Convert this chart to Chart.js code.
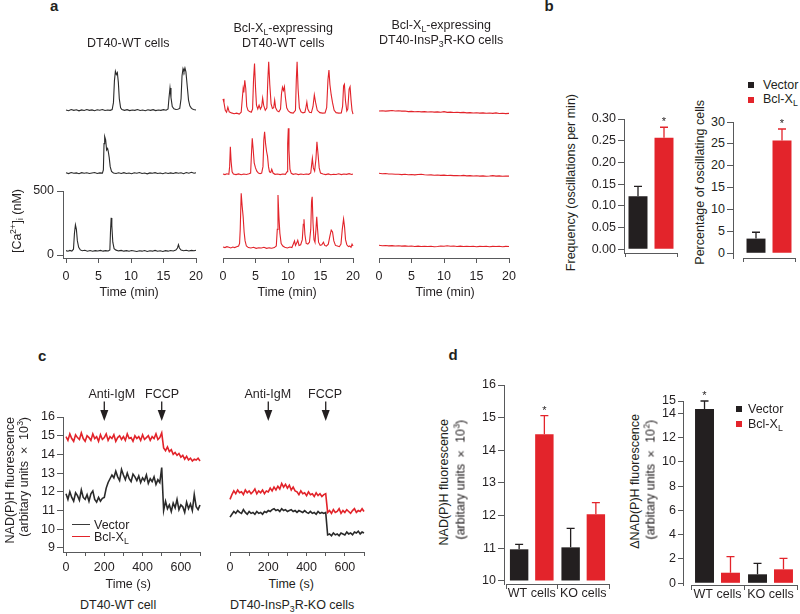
<!DOCTYPE html>
<html><head><meta charset="utf-8">
<script src="https://cdn.jsdelivr.net/npm/chart.js@4.4.1/dist/chart.umd.min.js"></script>
<style>
body{margin:0;background:#fff}
#root{position:relative;width:800px;height:614px;overflow:hidden;background:#fff;font-family:"Liberation Sans",Arial,Helvetica,sans-serif;color:#231f20}
.t{position:absolute;white-space:nowrap;font-size:12.5px;line-height:1;z-index:2}
.t sub,.t sup{font-size:0.7em;line-height:0;position:relative;vertical-align:baseline}
.t sub{top:0.35em}.t sup{top:-0.5em}
.v{writing-mode:vertical-rl;transform:rotate(180deg)}
.v sub,.v sup{top:0}
.v sup{left:0.5em}.v sub{left:-0.35em}
.bold{font-weight:bold;font-size:15px}
.sq{position:absolute;width:6px;height:6px;z-index:2}
.ln{position:absolute;width:18px;height:0;border-top:1.5px solid;z-index:2}
canvas{position:absolute;z-index:1}
</style></head><body><div id="root"></div><script>
// ================= DATA =================
// Panel a: [Ca2+]i traces, [time (min), nM]
const timeTicksMin = [0,5,10,15,20];
const caTicks = [0,500];
const wt1 = [[0,62],[0.4,57],[0.8,66],[1.2,60],[1.6,64],[2,56],[2.4,63],[2.8,59],[3.2,66],[3.6,60],[4,63],[4.4,57],[4.8,64],[5.2,61],[5.6,66],[6,59],[6.4,63],[6.8,60],[7.1,66],[7.3,120],[7.45,290],[7.6,365],[7.75,340],[7.9,355],[8.05,280],[8.2,150],[8.4,80],[8.6,66],[9,60],[9.4,65],[9.8,58],[10.2,63],[10.6,60],[11,66],[11.4,59],[11.8,62],[12.2,57],[12.6,64],[13,60],[13.4,65],[13.8,58],[14.2,62],[14.6,60],[15,65],[15.4,61],[15.7,70],[15.85,160],[16,235],[16.15,160],[16.35,90],[16.6,72],[16.9,66],[17.2,68],[17.5,75],[17.7,150],[17.85,330],[18,385],[18.15,360],[18.3,390],[18.45,360],[18.65,250],[18.85,140],[19.05,95],[19.3,75],[19.6,66],[20,63]];
const wt2 = [[0,72],[0.4,66],[0.8,74],[1.2,68],[1.6,71],[2,65],[2.4,73],[2.8,68],[3.2,72],[3.6,66],[4,70],[4.4,74],[4.8,67],[5.2,71],[5.6,69],[5.75,95],[5.85,300],[5.95,355],[6.1,330],[6.25,250],[6.4,262],[6.5,240],[6.65,190],[6.8,120],[7,82],[7.3,70],[7.7,66],[8.1,72],[8.5,67],[8.9,73],[9.3,66],[9.7,70],[10.1,65],[10.5,72],[10.9,68],[11.3,74],[11.7,67],[12.1,70],[12.5,64],[12.9,71],[13.3,68],[13.7,73],[14.1,66],[14.5,70],[14.9,65],[15.3,72],[15.7,67],[16.1,71],[16.5,66],[16.9,73],[17.3,68],[17.7,72],[18.1,65],[18.5,74],[18.9,69],[19.3,76],[19.7,68],[20,72]];
const wt3 = [[0,34],[0.3,30],[0.6,36],[0.9,31],[1.15,45],[1.3,170],[1.45,235],[1.6,200],[1.75,110],[1.95,60],[2.2,40],[2.5,33],[2.9,37],[3.3,30],[3.7,35],[4.1,29],[4.5,34],[4.9,31],[5.3,36],[5.7,30],[6.1,34],[6.5,31],[6.75,40],[6.85,190],[6.95,290],[7.05,230],[7.2,100],[7.4,50],[7.7,38],[8.1,32],[8.5,36],[8.9,30],[9.3,34],[9.7,29],[10.1,35],[10.5,31],[10.9,27],[11.3,33],[11.7,30],[12.1,35],[12.5,28],[12.9,33],[13.3,30],[13.7,36],[14.1,29],[14.5,33],[14.9,28],[15.3,34],[15.7,30],[16.1,35],[16.5,31],[16.9,38],[17.15,55],[17.3,80],[17.45,55],[17.7,38],[18.1,33],[18.5,37],[18.9,31],[19.3,36],[19.7,33],[20,37]];
const bcl1 = [[0,150],[0.15,120],[0.35,60],[0.55,45],[0.75,85],[0.95,48],[1.3,40],[1.7,33],[2.1,38],[2.5,31],[2.8,45],[2.95,140],[3.1,230],[3.2,200],[3.35,295],[3.5,230],[3.65,90],[3.85,60],[4.1,50],[4.35,45],[4.55,70],[4.7,300],[4.85,425],[5.0,240],[5.15,100],[5.35,70],[5.55,100],[5.75,70],[5.95,90],[6.1,155],[6.25,100],[6.5,60],[6.75,80],[6.9,300],[7.03,440],[7.2,260],[7.4,110],[7.6,75],[7.8,80],[7.95,140],[8.1,80],[8.35,55],[8.6,48],[8.85,70],[9.0,190],[9.15,240],[9.3,215],[9.45,245],[9.6,160],[9.8,80],[10.05,55],[10.4,42],[10.8,38],[11.15,60],[11.28,300],[11.4,440],[11.55,230],[11.75,80],[12.0,48],[12.3,40],[12.6,45],[12.75,80],[12.9,125],[13.05,70],[13.3,45],[13.6,42],[13.85,90],[14.05,180],[14.25,120],[14.5,60],[14.9,42],[15.3,38],[15.7,40],[15.95,80],[16.15,300],[16.3,375],[16.45,260],[16.65,180],[16.85,120],[17.1,60],[17.4,42],[17.8,38],[18.2,40],[18.4,90],[18.55,250],[18.68,263],[18.85,130],[19.05,55],[19.2,70],[19.4,225],[19.55,245],[19.7,140],[19.85,60],[20,30]];
const bcl2 = [[0,62],[0.3,58],[0.6,64],[0.9,60],[1.02,120],[1.13,276],[1.25,160],[1.4,80],[1.6,62],[2,58],[2.4,63],[2.8,57],[3.2,62],[3.6,59],[4,64],[4.25,70],[4.38,220],[4.5,341],[4.65,250],[4.8,150],[5.0,110],[5.2,85],[5.45,70],[5.7,65],[5.95,70],[6.15,120],[6.28,330],[6.4,393],[6.55,300],[6.7,240],[6.85,200],[7.0,120],[7.15,80],[7.35,75],[7.5,100],[7.7,70],[8.0,60],[8.4,63],[8.8,58],[9.2,62],[9.6,60],[9.85,80],[9.95,300],[10.05,420],[10.15,250],[10.3,100],[10.5,68],[10.8,60],[11.2,64],[11.6,58],[12,62],[12.4,59],[12.8,63],[13.2,60],[13.5,70],[13.65,140],[13.75,185],[13.9,110],[14.1,85],[14.3,180],[14.45,315],[14.6,230],[14.8,110],[15.0,70],[15.4,62],[15.8,58],[16.2,63],[16.6,57],[17,61],[17.4,59],[17.8,64],[18.2,58],[18.6,62],[19,60],[19.4,65],[19.8,59],[20,62]];
const bcl3 = [[0,62],[0.3,58],[0.6,65],[0.9,60],[1.2,55],[1.5,62],[1.8,58],[2.1,64],[2.4,70],[2.55,90],[2.65,200],[2.8,482],[2.95,380],[3.1,300],[3.25,180],[3.4,110],[3.6,70],[3.9,58],[4.3,55],[4.7,60],[5.1,52],[5.5,57],[5.9,55],[6.3,60],[6.7,52],[7.1,56],[7.5,53],[7.9,58],[8.2,70],[8.35,200],[8.46,469],[8.6,300],[8.75,170],[8.95,90],[9.2,70],[9.5,60],[9.9,55],[10.3,62],[10.6,58],[10.85,90],[11.0,110],[11.15,75],[11.35,95],[11.5,115],[11.7,75],[11.95,80],[12.2,120],[12.35,240],[12.46,279],[12.6,160],[12.8,90],[13.05,85],[13.3,100],[13.5,200],[13.62,420],[13.72,455],[13.85,250],[14.0,120],[14.15,100],[14.3,200],[14.42,299],[14.55,200],[14.7,100],[14.95,75],[15.2,80],[15.45,100],[15.65,75],[15.9,70],[16.2,85],[16.45,150],[16.65,195],[16.85,180],[17.05,110],[17.3,75],[17.6,70],[17.9,65],[18.15,85],[18.35,200],[18.55,281],[18.7,220],[18.85,120],[19.05,80],[19.3,65],[19.5,70],[19.7,60],[19.85,85],[20,70]];
const ko1 = [[0,55],[0.5,57],[1,54],[1.5,56],[2,58],[2.5,55],[3,57],[3.5,54],[4,55],[4.5,50],[5,52],[5.5,49],[6,51],[6.5,48],[7,50],[7.5,47],[8,49],[8.5,46],[9,48],[9.5,45],[10,50],[10.5,44],[11,46],[11.5,43],[12,45],[12.5,42],[13,44],[13.5,40],[14,42],[14.5,39],[15,41],[15.5,38],[16,40],[16.5,37],[17,39],[17.5,36],[18,40],[18.5,35],[19,37],[19.5,34],[20,36]];
const ko2 = [[0,68],[0.5,64],[1,66],[1.5,63],[2,62],[2.5,60],[3,61],[3.5,58],[4,60],[4.5,57],[5,59],[5.5,56],[6,58],[6.5,60],[7,57],[7.5,55],[8,56],[8.5,53],[9,55],[9.5,52],[10,54],[10.5,51],[11,52],[11.5,50],[12,51],[12.5,49],[13,52],[13.5,48],[14,50],[14.5,47],[15,49],[15.5,46],[16,48],[16.5,45],[17,47],[17.5,50],[18,46],[18.5,48],[19,45],[19.5,47],[20,46]];
const ko3 = [[0,76],[0.5,72],[1,74],[1.5,71],[2,73],[2.5,70],[3,72],[3.5,69],[4,71],[4.5,68],[5,70],[5.5,67],[6,69],[6.5,66],[7,68],[7.5,66],[8,68],[8.5,65],[9,67],[9.5,70],[10,68],[10.5,72],[11,68],[11.5,70],[12,67],[12.5,69],[13,66],[13.5,68],[14,66],[14.5,68],[15,65],[15.5,67],[16,66],[16.5,68],[17,65],[17.5,67],[18,66],[18.5,68],[19,65],[19.5,67],[20,66]];

// Panel b
const groupsB = ['Vector','Bcl-XL'];
const freqValues = [0.122,0.257];
const freqErr = [0.023,0.024];
const freqTicks = [0,0.05,0.10,0.15,0.20,0.25,0.30];
const pctValues = [3.35,25.8];
const pctErr = [1.45,2.6];
const pctTicks = [0,5,10,15,20,25,30];
const starB = [false,true];

// Panel c: NAD(P)H traces (time in s)
const cTime = [0,10,20,30,40,50,60,70,80,90,100,110,120,130,140,150,160,170,180,190,200,210,220,230,240,250,260,270,280,290,300,310,320,330,340,350,360,370,380,390,400,410,420,430,440,450,460,470,480,490,500,510,520,530,540,550,560,570,580,590,600,610,620,630,640,650,660,670,680,690,700];
const wtVector = [11.9,11.6,12.0,11.7,11.5,11.95,11.8,11.55,12.1,11.7,11.6,11.85,11.5,11.9,12.05,11.6,11.45,11.7,11.5,11.65,
  11.7,12.2,12.5,12.7,12.9,
  12.75,13.1,12.8,12.6,13.2,12.9,12.65,13.0,12.7,12.55,12.95,12.8,12.6,12.85,12.5,12.75,12.6,12.9,12.45,12.7,12.55,12.8,12.4,12.65,12.5,
  13.3,
  11.0,11.5,11.1,11.3,10.95,11.4,11.15,11.6,11.05,11.3,11.2,10.9,11.45,11.1,11.35,11.0,11.85,11.2,11.05,11.3];
const wtBcl = [14.95,14.75,15.1,14.85,14.7,15.05,14.9,14.8,15.15,14.85,
  14.7,15.0,14.9,14.75,15.1,14.85,14.95,14.7,15.05,14.8,
  14.9,15.1,14.75,14.95,14.85,15.05,14.7,14.9,15.0,14.8,
  14.95,14.75,15.1,14.85,14.9,14.7,15.0,14.85,14.95,14.75,
  15.05,14.8,14.9,15.0,14.75,14.95,14.85,15.1,14.8,14.9,
  15.15,
  14.35,14.2,14.4,14.15,14.25,14.0,14.1,13.95,14.05,13.85,13.95,13.75,13.9,13.7,13.8,13.65,13.75,13.7,13.8,13.65];
const koVector = [10.65,
  10.8,10.95,10.85,11.0,10.9,10.85,11.05,10.9,10.8,10.95,10.85,10.9,10.8,10.95,10.85,10.9,10.8,10.95,10.9,
  11.0,10.95,11.05,11.1,11.0,11.05,10.95,11.1,11.0,11.05,10.95,11.0,11.05,10.95,11.0,10.9,11.0,10.95,10.9,11.0,
  10.9,10.85,10.95,10.85,10.9,10.8,10.95,10.85,10.9,10.85,
  10.9,
  9.7,9.75,9.65,9.8,9.7,9.75,9.65,9.8,9.75,9.7,9.85,9.75,9.8,9.7,9.85,9.8,9.9,9.75,9.85,9.8];
const koBcl = [11.6,
  11.85,12.05,11.9,12.1,11.95,12.0,11.85,12.1,11.95,12.05,11.9,12.0,12.15,11.9,12.05,11.95,12.1,11.9,12.05,
  12.0,12.2,12.05,12.25,12.1,12.3,12.15,12.45,12.25,12.4,12.2,12.35,12.1,12.25,12.05,
  12.0,11.85,12.05,11.9,11.95,11.8,12.0,11.85,11.9,11.75,11.95,11.8,11.9,11.75,11.85,
  11.9,
  10.9,11.0,10.85,11.05,10.9,10.95,11.1,10.85,11.0,10.9,11.05,10.95,10.85,11.0,11.1,10.9,11.0,10.95,11.1,10.95];
const cTicksY = [9,10,11,12,13,14,15,16];
const cTicksX = [0,100,200,300,400,500,600,700];
const arrowTimes = [200,500];

// Panel d
const groupsD = ['WT cells','KO cells'];
const nadVector = [10.97,11.03];
const nadVectorErr = [0.15,0.58];
const nadBcl = [14.49,12.04];
const nadBclErr = [0.57,0.36];
const nadTicks = [10,11,12,13,14,15,16];
const dNadVector = [14.35,0.74];
const dNadVectorErr = [0.65,0.9];
const dNadBcl = [0.87,1.15];
const dNadBclErr = [1.32,0.9];
const dNadTicks = [0,2,4,6,8,10,12,14,15];

// ================= STYLE =================
const TXT = '#231f20', AX = '#58595b';
const BLACK = '#231f20', RED = '#e3242b';
const LINE_RED = '#e2232a', LINE_BLACK = '#2a2a2a';
const FONT = {family:'"Liberation Sans", Arial, sans-serif', size:12.5};
const root = document.getElementById('root');

function merge(a,b){const o=Object.assign({},a);for(const k in b){const v=b[k];o[k]=(v&&typeof v==='object'&&!Array.isArray(v)&&a[k]&&typeof a[k]==='object')?merge(a[k],v):v;}return o;}
const BASE_AXIS = {
  border:{display:true,color:AX,width:1},
  grid:{display:true,drawOnChartArea:false,drawTicks:true,tickLength:5,tickColor:AX,tickWidth:1,color:AX},
  ticks:{color:TXT,font:FONT,padding:3,maxRotation:0,autoSkip:false}
};
function axis(extra){return merge(BASE_AXIS,extra);}
function fixed(vals){return s=>{s.ticks=vals.map(v=>({value:v}));};}
const endTicks = c => (c.type==='scale'||c.index===0) ? AX : 'rgba(0,0,0,0)';

function place(area, sp, cfg, z){
  const W=Math.round(area.w+sp.l+sp.r), H=Math.round(area.h+sp.t+sp.b);
  const cv=document.createElement('canvas');
  cv.width=W; cv.height=H;
  cv.style.left=(area.x-sp.l)+'px'; cv.style.top=(area.y-sp.t)+'px';
  cv.style.width=W+'px'; cv.style.height=H+'px';
  if(z) cv.style.zIndex=z;
  root.appendChild(cv);
  const sc=cfg.options.scales;
  const yOn=sc.y.display!==false, xOn=sc.x.display!==false;
  const gap=sp.gap||0;
  if(yOn){sc.y.weight=10; sc.y.afterFit=s=>{s.width=sp.l-gap;};}
  if(gap){sc.gapAxis={type:'linear',axis:'y',position:'left',weight:0,display:true,grid:{display:false},border:{display:false},ticks:{display:false},afterFit:s=>{s.width=gap;}};}
  if(xOn){sc.x.afterFit=s=>{s.height=sp.b;};}
  cfg.options.layout={padding:{left:yOn?0:sp.l,right:sp.r,top:sp.t,bottom:xOn?0:sp.b}};
  cfg.options.responsive=false; cfg.options.animation=false; cfg.options.events=[];
  cfg.options.plugins=Object.assign({legend:{display:false},tooltip:{enabled:false}},cfg.options.plugins||{});
  const ch=new Chart(cv,cfg);
  ch.$origin={x:area.x-sp.l,y:area.y-sp.t};
  return ch;
}

// error bars + asterisks
const errPlugin={id:'errbars',afterDatasetsDraw(chart){
  const ctx=chart.ctx, ys=chart.scales.y;
  chart.data.datasets.forEach((ds,i)=>{
    if(!ds.err) return;
    const meta=chart.getDatasetMeta(i);
    meta.data.forEach((el,j)=>{
      const col=Array.isArray(ds.backgroundColor)?ds.backgroundColor[j]:ds.backgroundColor;
      const top=ys.getPixelForValue(ds.data[j]+ds.err[j]);
      ctx.save(); ctx.strokeStyle=col; ctx.lineWidth=1.3;
      ctx.beginPath(); ctx.moveTo(el.x,el.y); ctx.lineTo(el.x,top);
      ctx.moveTo(el.x-4,top); ctx.lineTo(el.x+4,top); ctx.stroke();
      if(ds.star&&ds.star[j]){ctx.fillStyle=TXT;ctx.font='11px "Liberation Sans", Arial';ctx.textAlign='center';ctx.textBaseline='alphabetic';ctx.fillText('*',el.x,top-2);}
      ctx.restore();
    });
  });
}};
// stimulus arrows
const arrowPlugin={id:'arrows',afterDraw(chart,args,opts){
  if(!opts||!opts.at) return;
  const ctx=chart.ctx, xs=chart.scales.x, top=chart.chartArea.top;
  ctx.save(); ctx.strokeStyle=TXT; ctx.fillStyle=TXT; ctx.lineWidth=1.3;
  opts.at.forEach(t=>{
    const x=xs.getPixelForValue(t);
    ctx.beginPath(); ctx.moveTo(x,top-15.5); ctx.lineTo(x,top-6); ctx.stroke();
    ctx.beginPath(); ctx.moveTo(x-4,top-7); ctx.lineTo(x+4,top-7); ctx.lineTo(x,top+4); ctx.closePath(); ctx.fill();
  });
  ctx.restore();
}};
Chart.register(errPlugin,arrowPlugin);

function lineDs(arr,color,w){return {data:arr.map(p=>({x:p[0],y:p[1]})),borderColor:color,borderWidth:w,pointRadius:0,tension:0,fill:false,clip:false};}
function seriesDs(vals,color,w){return {data:cTime.map((t,i)=>({x:t,y:vals[i]})),borderColor:color,borderWidth:w,pointRadius:0,tension:0,fill:false,clip:false};}

// ================= PANEL a =================
const colsA=[
  {x:63,w:133,min:-3/6.5,traces:[wt1,wt2,wt3],color:LINE_BLACK},
  {x:223,w:130,min:0,traces:[bcl1,bcl2,bcl3],color:LINE_RED},
  {x:379,w:130,min:0,traces:[ko1,ko2,ko3],color:LINE_RED}];
const rowTopsA=[54,118,191];
colsA.forEach((c,ci)=>c.traces.forEach((tr,ri)=>{
  const bottom=ri===2, left=bottom&&ci===0;
  place({x:c.x,y:rowTopsA[ri],w:c.w,h:67},{l:left?50:14,r:14,t:14,b:bottom?36:14},{
    type:'line',data:{datasets:[lineDs(tr,c.color,1.1)]},
    options:{scales:{
      x: bottom ? axis({type:'linear',min:c.min,max:20,afterBuildTicks:fixed(timeTicksMin),ticks:{padding:6}}) : {type:'linear',min:c.min,max:20,display:false},
      y: left ? axis({type:'linear',min:-23.4375,max:500,afterBuildTicks:fixed(caTicks),grid:{tickLength:6},ticks:{padding:3}}) : {type:'linear',min:-23.4375,max:500,display:false}
    }}
  });
}));

// ================= PANEL b =================
place({x:625,y:119,w:52,h:134},{l:45,r:8,t:10,b:10,gap:1},{
  type:'bar',data:{labels:groupsB,datasets:[{data:freqValues,err:freqErr,star:starB,backgroundColor:[BLACK,RED],categoryPercentage:1,barPercentage:0.73}]},
  options:{scales:{
    x:axis({type:'category',ticks:{display:false},grid:{tickLength:4,tickColor:endTicks}}),
    y:axis({type:'linear',min:-0.0085,max:0.30,afterBuildTicks:fixed(freqTicks),ticks:{padding:2,callback:v=>Number(v).toFixed(2)},grid:{tickLength:6}})
  }}
}, 3);
// percentage chart: tick labels are written as page text at the scale's own tick positions
const pctChart = place({x:743,y:122,w:52,h:136},{l:40,r:5,t:10,b:10,gap:10},{
  type:'bar',data:{labels:groupsB.slice(),datasets:[{data:pctValues,err:pctErr,star:starB.slice(),backgroundColor:[BLACK,RED],categoryPercentage:1,barPercentage:0.73}]},
  options:{scales:{
    x:axis({type:'category',ticks:{display:false},grid:{tickLength:4,tickColor:endTicks}}),
    y:axis({type:'linear',min:-1.08,max:30,afterBuildTicks:fixed(pctTicks),ticks:{display:false},grid:{tickLength:6}})
  }}
}, 3);

// ================= PANEL c =================
function cChart(area,sp,xmin,vec,bcl,showY){
  place(area,sp,{
    type:'line',data:{datasets:[seriesDs(bcl,LINE_RED,1.6),seriesDs(vec,LINE_BLACK,1.6)]},
    options:{plugins:{arrows:{at:arrowTimes}},scales:{
      x:axis({type:'linear',min:xmin,max:700,afterBuildTicks:fixed(cTicksX),ticks:{padding:4,callback:v=>(v%200===0?String(v):'')},grid:{tickLength:4}}),
      y: showY ? axis({type:'linear',min:8.785,max:16,afterBuildTicks:fixed(cTicksY),ticks:{padding:2},grid:{tickLength:6}}) : {type:'linear',min:8.785,max:16,display:false}
    }}
  });
}
cChart({x:63,y:417,w:137,h:135},{l:45,r:10,t:32,b:24},-15.7,wtVector,wtBcl,true);
cChart({x:230,y:417,w:134,h:135},{l:14,r:10,t:32,b:24},0,koVector,koBcl,false);

// ================= PANEL d =================
place({x:506,y:385,w:103,h:199},{l:42,r:8,t:10,b:22,gap:2},{
  type:'bar',data:{labels:groupsD,datasets:[
    {label:'Vector',data:nadVector,err:nadVectorErr,backgroundColor:BLACK,base:10,categoryPercentage:0.98,barPercentage:0.73},
    {label:'Bcl-XL',data:nadBcl,err:nadBclErr,star:[true,false],backgroundColor:RED,base:10,categoryPercentage:0.98,barPercentage:0.73}]},
  options:{scales:{
    x:axis({type:'category',ticks:{padding:-3},grid:{tickLength:5}}),
    y:axis({type:'linear',min:9.908,max:16,afterBuildTicks:fixed(nadTicks),ticks:{padding:2},grid:{tickLength:6}})
  }}
});
place({x:691,y:401,w:106,h:184},{l:40,r:3,t:10,b:22,gap:8},{
  type:'bar',data:{labels:groupsD.slice(),datasets:[
    {label:'Vector',data:dNadVector,err:dNadVectorErr,star:[true,false],backgroundColor:BLACK,categoryPercentage:0.98,barPercentage:0.73},
    {label:'Bcl-XL',data:dNadBcl,err:dNadBclErr,backgroundColor:RED,categoryPercentage:0.98,barPercentage:0.73}]},
  options:{scales:{
    x:axis({type:'category',ticks:{padding:-3},grid:{tickLength:5}}),
    y:axis({type:'linear',min:-0.14,max:15,afterBuildTicks:fixed(dNadTicks),ticks:{padding:2},grid:{tickLength:5}})
  }}
});

// ================= TEXT =================
function T(html,x,y,o){o=o||{};const d=document.createElement('div');
  d.className='t'+(o.rot?' v':'')+(o.cls?' '+o.cls:'');d.innerHTML=html;root.appendChild(d);
  const w=d.offsetWidth,h=d.offsetHeight;
  d.style.left=(o.left?x:(o.right?x-w:x-w/2))+'px'; d.style.top=(y-h/2)+'px';
  return d;}
function box(cls,x,y,color){const d=document.createElement('div');d.className=cls;d.style.left=x+'px';d.style.top=y+'px';
  if(cls==='sq') d.style.background=color; else d.style.borderTopColor=color; root.appendChild(d);}

// percentage-axis tick labels, placed from the chart's y scale
(function(){const ys=pctChart.scales.y, o=pctChart.$origin;
  const rightX=o.x+ys.right-6-2;
  pctTicks.forEach(v=>{T(String(v),rightX,o.y+ys.getPixelForValue(v),{right:true});});
})();

T('a',54,5,{cls:'bold'}); T('b',549,5,{cls:'bold'}); T('c',42,355,{cls:'bold'}); T('d',453,354,{cls:'bold'});
// a
T('DT40-WT cells',128,43);
T('Bcl-X<sub>L</sub>-expressing',283,28); T('DT40-WT cells',283,43);
T('Bcl-X<sub>L</sub>-expressing',441,25); T('DT40-InsP<sub>3</sub>R-KO cells',441,40);
T('Time (min)',129,292); T('Time (min)',287,292); T('Time (min)',445,292);
T('[Ca<sup>2+</sup>]<sub>i</sub> (nM)',17,221,{rot:true});
// b
T('Frequency (oscillations per min)',571,182,{rot:true});
T('Percentage of oscillating cells',700,182,{rot:true});
box('sq',748,82,BLACK); T('Vector',763,85,{left:true});
box('sq',748,97,RED); T('Bcl-X<sub>L</sub>',763,99,{left:true});
// c
T('Anti-IgM',112,394); T('FCCP',162,394);
T('Anti-IgM',268,394); T('FCCP',325,394);
T('NAD(P)H fluorescence',10,480,{rot:true});
T('(arbitary units × 10<sup>3</sup>)',24,477,{rot:true});
box('ln',72,524,'#3a3a3a'); T('Vector',94,525,{left:true});
box('ln',72,536,LINE_RED); T('Bcl-X<sub>L</sub>',94,537,{left:true});
T('Time (s)',128,584); T('Time (s)',291,584);
T('DT40-WT cell',118,605); T('DT40-InsP<sub>3</sub>R-KO cells',292,605);
// d
T('NAD(P)H fluorescence',444,482,{rot:true});
T('(arbitary units × 10<sup>3</sup>)',461,480,{rot:true});
T('ΔNAD(P)H fluorescence',635,481,{rot:true});
T('(arbitary units × 10<sup>2</sup>)',651,480,{rot:true});
box('sq',736,406,BLACK); T('Vector',748,409,{left:true});
box('sq',736,421,RED); T('Bcl-X<sub>L</sub>',748,424,{left:true});
</script></body></html>
